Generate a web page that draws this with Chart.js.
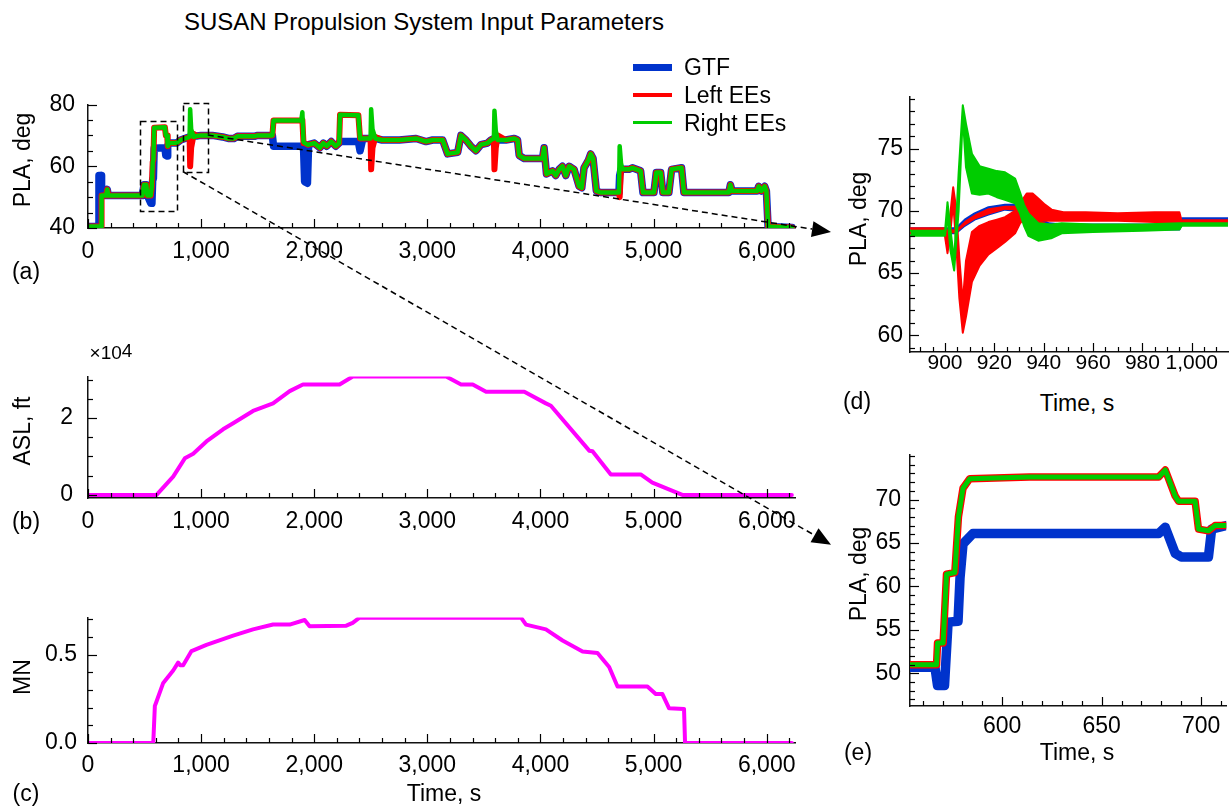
<!DOCTYPE html>
<html>
<head>
<meta charset="utf-8">
<title>SUSAN Propulsion System Input Parameters</title>
<script src="https://cdn.jsdelivr.net/npm/chart.js@4.4.0/dist/chart.umd.min.js"></script>
<style>
  body { margin: 0; background: #fff; }
  #page { position: relative; width: 1230px; height: 810px; overflow: hidden;
          font-family: "Liberation Sans", Arial, sans-serif; color: #000; }
  #page canvas { position: absolute; }
  .txt { position: absolute; transform: translate(-50%, -50%); white-space: nowrap; font-size: 23px; }
  .rot { transform: translate(-50%, -50%) rotate(-90deg); }
  .leg { position: absolute; left: 633px; width: 39px; }
  .legtxt { position: absolute; left: 684px; transform: translateY(-50%); font-size: 23px; white-space: nowrap; }
</style>
</head>
<body>
<div id="page">
  <canvas id="cA" width="810" height="190" style="left:0px;top:80px"></canvas>
  <canvas id="cB" width="810" height="180" style="left:0px;top:350px"></canvas>
  <canvas id="cC" width="810" height="215" style="left:0px;top:595px"></canvas>
  <canvas id="cD" width="400" height="304" style="left:830px;top:78px"></canvas>
  <canvas id="cE" width="400" height="307" style="left:830px;top:434px"></canvas>

  <div class="txt" style="left:424px;top:22px;font-size:24px">SUSAN Propulsion System Input Parameters</div>

  <div class="leg" style="top:64px;height:7px;background:#0033cc"></div>
  <div class="leg" style="top:93px;height:4px;background:#ff0000"></div>
  <div class="leg" style="top:121px;height:3px;background:#00cc00"></div>
  <div class="legtxt" style="top:67px">GTF</div>
  <div class="legtxt" style="top:95px">Left EEs</div>
  <div class="legtxt" style="top:123px">Right EEs</div>

  <div class="txt rot" style="left:22px;top:160px">PLA, deg</div>
  <div class="txt" style="left:26px;top:271px">(a)</div>
  <div class="txt rot" style="left:22px;top:431px">ASL, ft</div>
  <div class="txt" style="left:111px;top:353px;font-size:19px">×10<span style="position:relative;top:-2px">4</span></div>
  <div class="txt" style="left:26px;top:521px">(b)</div>
  <div class="txt rot" style="left:22px;top:677px">MN</div>
  <div class="txt" style="left:26px;top:793px">(c)</div>
  <div class="txt" style="left:444px;top:793px">Time, s</div>
  <div class="txt rot" style="left:858px;top:219px">PLA, deg</div>
  <div class="txt" style="left:857px;top:401px">(d)</div>
  <div class="txt" style="left:1077px;top:403px">Time, s</div>
  <div class="txt rot" style="left:858px;top:574px">PLA, deg</div>
  <div class="txt" style="left:858px;top:752px">(e)</div>
  <div class="txt" style="left:1077px;top:752px">Time, s</div>

  <canvas id="overlay" width="1230" height="810" style="left:0;top:0;pointer-events:none"></canvas>
</div>

<script>
// ---- (a) whole flight, power lever angle
var aTime = [0, 92, 97, 115, 120, 160, 170, 180, 480, 495,
  515, 525, 555, 565, 572, 578, 585, 680, 688, 700,
  703, 706, 715, 782, 820, 880, 898, 903, 912, 935,
  960, 1000, 1100, 1190, 1240, 1290, 1320, 1470, 1500, 1630,
  1640, 1885, 1895, 1905, 1915, 1940, 1950, 2000, 2050, 2080,
  2110, 2150, 2190, 2220, 2228, 2390, 2405, 2430, 2498, 2503,
  2515, 2540, 2600, 2753, 2900, 2988, 3047, 3135, 3179, 3268,
  3297, 3341, 3385, 3429, 3474, 3532, 3562, 3588, 3593, 3605,
  3621, 3694, 3768, 3797, 3812, 3856, 4018, 4032, 4053, 4106,
  4135, 4165, 4194, 4224, 4253, 4297, 4341, 4365, 4385, 4424,
  4444, 4465, 4494, 4532, 4694, 4700, 4712, 4724, 4782, 4812,
  4885, 4906, 5003, 5024, 5062, 5082, 5135, 5159, 5247, 5268,
  5665, 5679, 5694, 5915, 5929, 5953, 5982, 5997, 6012, 6224];

var aGTF = [40.5, 40.5, 57, 57, 50.5, 50.5, 52.5, 50.5, 50.5, 54,
  54, 50.5, 48, 48, 55.9, 56, 65.8, 66, 63.5, 63.3,
  63.3, 66.6, 67.5, 67.5, 68.5, 69.3, 69.5, 69.5, 70, 69.8,
  69.8, 70, 70, 69.5, 69, 69, 69.7, 69.7, 70, 70,
  66.5, 66.5, 66.5, 66.5, 55, 54.5, 67, 67.5, 66, 67.5,
  66.5, 68, 66.5, 67.5, 68, 68, 65, 69, 69, 69,
  69, 69, 68.5, 68.5, 69, 68, 68.5, 68.5, 64, 64.5,
  70, 68.5, 66.5, 65, 67, 67.5, 68.5, 69, 69, 69,
  68.5, 68.5, 69, 68.5, 63.5, 62.5, 62.5, 66, 57.5, 58.5,
  57, 59, 60, 57, 60, 59, 53.5, 53, 59.5, 62,
  64, 62.5, 52, 51.5, 51.5, 57, 59, 59, 59, 59.5,
  58.5, 51.5, 51.5, 58, 58, 51.5, 51.5, 59, 59.5, 51.5,
  51.5, 54, 52, 52, 53.5, 52, 53.5, 52, 40.5, 40.2];

var aLeft = [40.5, 40.5, 40.5, 40.5, 50.5, 50.5, 52.5, 50.5, 50.5, 54,
  54, 50.5, 50.5, 53.5, 61.4, 62, 72.5, 72.6, 70, 70,
  66.5, 66.6, 67.5, 67.5, 68.5, 69.3, 69.5, 60, 66, 70.5,
  69.8, 70, 70, 69.5, 69, 69, 69.7, 69.7, 70, 70,
  74.8, 74.8, 75, 67.5, 67.5, 67, 67, 67.5, 66, 67.5,
  66.5, 68, 66.5, 67.5, 76.7, 76.5, 69, 69, 69, 59,
  66, 69.5, 68.5, 68.5, 69, 68, 68.5, 68.5, 64, 64.5,
  70, 68.5, 66.5, 65, 67, 67.5, 68.5, 69, 59, 66,
  70, 68.5, 69, 68.5, 63.5, 62.5, 62.5, 66, 57.5, 58.5,
  57, 59, 60, 57, 60, 59, 53.5, 53, 59.5, 62,
  64, 62.5, 52, 51.5, 51.5, 50, 59.5, 59, 59, 59.5,
  58.5, 51.5, 51.5, 58, 58, 51.5, 51.5, 59, 59.5, 51.5,
  51.5, 54, 52, 52, 53.5, 52, 53.5, 52, 40.5, 40.2];

var aRight = [40.5, 40.5, 40.5, 40.5, 50.5, 50.5, 52.5, 50.5, 50.5, 54,
  54, 50.5, 50.5, 53.5, 61.4, 62, 72.5, 72.6, 70, 70,
  66.5, 66.6, 67.5, 67.5, 68.5, 69.3, 69.5, 78.5, 72, 69.5,
  69.8, 70, 70, 69.5, 69, 69, 69.7, 69.7, 70, 70,
  74.8, 74.8, 77.5, 68, 67.5, 67, 67, 67.5, 66, 67.5,
  66.5, 68, 66.5, 67.5, 76.7, 76.5, 69, 69, 69, 78.5,
  72, 69, 68.5, 68.5, 69, 68, 68.5, 68.5, 64, 64.5,
  70, 68.5, 66.5, 65, 67, 67.5, 68.5, 69, 78, 71.5,
  68.5, 68.5, 69, 68.5, 63.5, 62.5, 62.5, 66, 57.5, 58.5,
  57, 59, 60, 57, 60, 59, 53.5, 53, 59.5, 62,
  64, 62.5, 52, 51.5, 51.5, 66.5, 61, 59, 59, 59.5,
  58.5, 51.5, 51.5, 58, 58, 51.5, 51.5, 59, 59.5, 51.5,
  51.5, 54, 52, 52, 53.5, 52, 53.5, 52, 40.5, 40.2];

// ---- (b) altitude, ft
var bTime = [0, 606, 753, 856, 930, 1047, 1194, 1283, 1459, 1636, 1783, 1900, 2224, 2341,
  3166, 3298, 3401, 3519, 3857, 4048, 4092, 4431, 4460, 4622, 4886, 4989, 5254, 6222];
var bAlt = [0, 0, 4760, 9520, 10700, 13900, 17070, 18650, 21830, 23810, 27000, 28740, 28740, 30800,
  30800, 28740, 28740, 26830, 26830, 23810, 23190, 11510, 11350, 5320, 5320, 3180, 0, 0];

// ---- (c) mach number
var cTime = [0, 577, 591, 600, 665, 753, 797, 815, 841, 915, 1047, 1283, 1459, 1636, 1783, 1915,
  1959, 2283, 2340, 2400, 3828, 3872, 4048, 4195, 4372, 4504, 4607, 4681, 4945, 5019, 5078,
  5137, 5269, 5278, 6222];
var cMach = [0, 0, 0.21, 0.225, 0.34, 0.41, 0.455, 0.44, 0.44, 0.52, 0.555, 0.607, 0.643, 0.67, 0.67, 0.696,
  0.66, 0.664, 0.68, 0.709, 0.709, 0.67, 0.643, 0.58, 0.518, 0.509, 0.43, 0.32, 0.32, 0.277, 0.277,
  0.196, 0.193, 0, 0];

// ---- (d) zoom around 900 s (bands = spread of the engine traces)
var dRedT = [886, 899.8, 901, 902, 903.3, 904.5, 905.8, 907.2, 908.5, 910.9,
  914, 917.6, 921, 924.3, 928.4, 930.4, 933.1, 935.5, 937.8, 940.5,
  943.2, 948, 957, 970, 985, 995, 996, 1014.7];
var dRedHi = [68.6, 68.6, 67.8, 69.5, 71.9, 70.2, 66.2, 62.6, 66.0, 68.3,
  68.8, 69.1, 69.3, 69.5, 70.0, 70.6, 71.4, 71.4, 71.0, 70.5,
  70.1, 69.9, 69.9, 69.8, 69.9, 69.9, 69.1, 69.1];
var dRedLo = [68.2, 68.2, 66.6, 68.0, 70.6, 67.5, 63.0, 60.2, 61.5, 64.3,
  65.6, 66.5, 67.0, 67.5, 68.2, 69.0, 69.6, 69.6, 69.3, 69.2,
  69.2, 69.2, 69.2, 69.2, 69.1, 69.1, 68.9, 68.9];

var dGrnT = [886, 900, 901, 902.2, 903.7, 905.5, 907.2, 908.5, 910.9, 914,
  917.6, 921, 924.3, 928.4, 930.4, 932, 933.8, 937.8, 943, 947.3,
  960, 980, 995, 996, 1014.7];
var dGrnHi = [68.4, 68.4, 70.7, 68.5, 66.0, 73.0, 78.5, 77.0, 74.6, 73.6,
  73.4, 73.2, 73.1, 72.6, 71.5, 70.5, 69.8, 69.0, 68.9, 69.0,
  68.9, 68.9, 69.0, 69.0, 69.0];
var dGrnLo = [68.0, 68.0, 69.6, 66.8, 65.2, 70.0, 77.6, 73.5, 71.4, 71.3,
  71.4, 71.1, 70.9, 70.6, 69.8, 68.8, 68.0, 67.6, 67.8, 68.2,
  68.3, 68.4, 68.5, 68.8, 68.8];

var dGtfT = [886, 903.5, 905, 908, 912, 917.6, 924.3, 930.4, 933, 935.1, 939.2, 942, 948, 995, 996, 1014.7];
var dGtfHi = [68.6, 68.6, 68.7, 69.3, 69.8, 70.3, 70.5, 70.5, 70.2, 69.9, 69.3, 69.0, 68.9, 68.9, 69.4, 69.4];
var dGtfLo = [68.2, 68.2, 68.3, 68.8, 69.3, 69.7, 70.1, 70.0, 69.7, 69.3, 68.8, 68.6, 68.5, 68.5, 69.0, 69.0];

// ---- (e) zoom around 600 s
var eTime = [553.7, 567, 567.5, 570.3, 572, 576.2, 578, 580.3, 583.7, 613.7,
  678.7, 682, 687, 688.7, 697, 698.7, 703.7, 707, 712.7];
var eEE = [51.0, 51.0, 53.5, 53.5, 61.4, 61.6, 68.0, 71.3, 72.4, 72.6,
  72.6, 73.4, 70.4, 69.8, 69.8, 66.6, 66.4, 67.0, 67.0];
var eGtfT = [553.7, 566.2, 567.5, 571, 572.8, 577.8, 578.8, 580.3, 585.3, 678.7, 682, 687, 690, 703.7, 705.3, 712.7];
var eGTF = [50.7, 50.7, 48.6, 48.6, 55.9, 56.0, 61.0, 64.9, 66.1, 66.1, 66.8, 63.8, 63.4, 63.4, 66.6, 67.0];

var BLUE = '#0033cc', RED = '#ff0000', GREEN = '#00cc00', MAGENTA = '#ff00ff';

Chart.defaults.font.family = '"Liberation Sans", Arial, sans-serif';
Chart.defaults.color = '#000';

function pts(xs, ys) {
  return xs.map(function (x, i) { return { x: x, y: ys[i] }; });
}

function line(label, data, color, width, order, extra) {
  var d = { label: label, data: data, borderColor: color, backgroundColor: color,
    borderWidth: width, order: order, fill: false, pointRadius: 0,
    borderJoinStyle: 'round', borderCapStyle: 'round' };
  for (var k in extra) d[k] = extra[k];
  return d;
}

// draws the inward tick marks (minor and major) on both axes
var inTicks = {
  id: 'inTicks',
  afterDraw: function (chart) {
    var ctx = chart.ctx, area = chart.chartArea;
    ctx.save();
    ctx.strokeStyle = '#000';
    ctx.lineWidth = 1.2;
    ['x', 'y'].forEach(function (id) {
      var sc = chart.scales[id];
      var step = sc.options.ticks.stepSize;
      sc.ticks.forEach(function (tk) {
        var r = tk.value / step;
        if (Math.abs(r - Math.round(r)) > 1e-6) return;
        var len = tk.label !== '' ? 9 : 5;
        var p = Math.round(sc.getPixelForValue(tk.value)) + 0.5;
        ctx.beginPath();
        if (id === 'x') { ctx.moveTo(p, area.bottom); ctx.lineTo(p, area.bottom - len); }
        else { ctx.moveTo(area.left, p); ctx.lineTo(area.left + len, p); }
        ctx.stroke();
      });
    });
    ctx.restore();
  }
};

function makeChart(id, datasets, o) {
  return new Chart(document.getElementById(id), {
    type: 'line',
    data: { datasets: datasets },
    options: {
      animation: false, responsive: false, maintainAspectRatio: false,
      layout: { padding: { top: o.padTop, right: o.padRight, left: 0, bottom: 0 } },
      plugins: { legend: { display: false }, tooltip: { enabled: false } },
      scales: {
        x: {
          type: 'linear', min: o.xMin, max: o.xMax,
          ticks: { stepSize: o.xStep, includeBounds: false, autoSkip: false, maxRotation: 0, minRotation: 0,
            padding: o.xPad, font: { size: o.xFont || 23, lineHeight: 1 }, callback: o.xLabel },
          grid: { drawOnChartArea: false, drawTicks: false },
          border: { color: '#111', width: 1.5 },
          afterFit: function (s) { s.height = o.xH; }
        },
        y: {
          min: o.yMin, max: o.yMax,
          ticks: { stepSize: o.yStep, includeBounds: false, autoSkip: false, padding: o.yPad,
            font: { size: 23, lineHeight: 1 }, callback: o.yLabel },
          grid: { drawOnChartArea: false, drawTicks: false },
          border: { color: '#111', width: 1.5 },
          afterFit: function (s) { s.width = o.yW; }
        }
      }
    },
    plugins: [inTicks]
  });
}

function isMult(v, m) { var r = v / m; return Math.abs(r - Math.round(r)) < 1e-6; }
function thousands(v) { return isMult(v, 1000) ? v.toLocaleString('en-US') : ''; }

var chartA = makeChart('cA', [
  line('Right EEs', pts(aTime, aRight), GREEN, 4.5, 0),
  line('Left EEs', pts(aTime, aLeft), RED, 6, 1),
  line('GTF', pts(aTime, aGTF), BLUE, 7.5, 2)
], { padTop: 15, padRight: 15, xH: 42, yW: 88, xMin: 0, xMax: 6250, xStep: 200, xPad: 12,
     xLabel: thousands, yMin: 40, yMax: 80, yStep: 5, yPad: 13,
     yLabel: function (v) { return isMult(v, 20) ? String(v) : ''; } });

// altitude axis is in units of 10^4 ft
var chartB = makeChart('cB', [
  line('ASL', pts(bTime, bAlt.map(function (v) { return v / 1e4; })), MAGENTA, 4, 0)
], { padTop: 16, padRight: 15, xH: 32, yW: 88, xMin: 0, xMax: 6250, xStep: 200, xPad: 12,
     xLabel: thousands, yMin: -0.08, yMax: 3.08, yStep: 0.5, yPad: 15,
     yLabel: function (v) { return Math.abs(v) < 1e-6 ? '0' : (Math.abs(v - 2) < 1e-6 ? '2' : ''); } });

var chartC = makeChart('cC', [
  line('MN', pts(cTime, cMach), MAGENTA, 4, 0)
], { padTop: 15, padRight: 15, xH: 67, yW: 88, xMin: 0, xMax: 6250, xStep: 200, xPad: 11,
     xLabel: thousands, yMin: 0, yMax: 0.71, yStep: 0.1, yPad: 11,
     yLabel: function (v) { return isMult(v, 0.5) ? v.toFixed(1) : ''; } });

var chartD = makeChart('cD', [
  line('Right EEs', pts(dGrnT, dGrnHi), GREEN, 2, 0, { fill: '+1' }),
  line('Right EEs low', pts(dGrnT, dGrnLo), GREEN, 2, 0),
  line('Left EEs', pts(dRedT, dRedHi), RED, 2, 1, { fill: '+1' }),
  line('Left EEs low', pts(dRedT, dRedLo), RED, 2, 1),
  line('GTF', pts(dGtfT, dGtfHi), BLUE, 2, 2, { fill: '+1', backgroundColor: RED }),
  line('GTF low', pts(dGtfT, dGtfLo), BLUE, 2, 2)
], { padTop: 15, padRight: 2, xH: 30, yW: 80, xMin: 885.8, xMax: 1014.7, xStep: 5, xPad: 1, xFont: 21,
     xLabel: function (v) { return isMult(v, 20) ? v.toLocaleString('en-US') : ''; },
     yMin: 58.65, yMax: 79.2, yStep: 1, yPad: 7,
     yLabel: function (v) { return isMult(v, 5) ? String(v) : ''; } });

var chartE = makeChart('cE', [
  line('Right EEs', pts(eTime, eEE), GREEN, 5, 0),
  line('Left EEs', pts(eTime, eEE), RED, 7.5, 1),
  line('GTF', pts(eGtfT, eGTF), BLUE, 9.5, 2)
], { padTop: 15, padRight: 2, xH: 35, yW: 80, xMin: 553.65, xMax: 712.65, xStep: 10, xPad: 9,
     xLabel: function (v) { return isMult(v, 50) ? String(v) : ''; },
     yMin: 46.25, yMax: 75.18, yStep: 1, yPad: 9,
     yLabel: function (v) { return (isMult(v, 5) && v <= 70) ? String(v) : ''; } });

// dashed zoom boxes on (a) and the dashed arrows to (d) and (e)
function drawOverlay() {
  var ctx = document.getElementById('overlay').getContext('2d');
  var offA = { left: 0, top: 80 }, offD = { left: 830, top: 78 }, offE = { left: 830, top: 434 };
  function pa(t, v) {
    return [offA.left + chartA.scales.x.getPixelForValue(t), offA.top + chartA.scales.y.getPixelForValue(v)];
  }
  ctx.strokeStyle = '#000';
  ctx.fillStyle = '#000';
  ctx.lineWidth = 1.5;
  ctx.setLineDash([6, 4]);

  var boxes = [[459, 785, 45.4, 74.6], [838, 1059, 58.3, 80.6]];
  boxes.forEach(function (b) {
    var p0 = pa(b[0], b[3]), p1 = pa(b[1], b[2]);
    ctx.strokeRect(Math.round(p0[0]) + 0.5, Math.round(p0[1]) + 0.5, Math.round(p1[0] - p0[0]), Math.round(p1[1] - p0[1]));
  });

  function arrow(a, b) {
    var ang = Math.atan2(b[1] - a[1], b[0] - a[0]), L = 19, W = 8;
    var bx = b[0] - L * Math.cos(ang), by = b[1] - L * Math.sin(ang);
    ctx.setLineDash([6, 4]);
    ctx.beginPath(); ctx.moveTo(a[0], a[1]); ctx.lineTo(bx, by); ctx.stroke();
    ctx.setLineDash([]);
    ctx.beginPath();
    ctx.moveTo(b[0], b[1]);
    ctx.lineTo(bx + W * Math.sin(ang), by - W * Math.cos(ang));
    ctx.lineTo(bx - W * Math.sin(ang), by + W * Math.cos(ang));
    ctx.closePath(); ctx.fill();
  }
  arrow(pa(1059, 70.1), [offD.left + 1, offD.top + chartD.scales.y.getPixelForValue(68.3)]);
  arrow(pa(838, 58.3), [offE.left + 1, offE.top + chartE.scales.y.getPixelForValue(64.8)]);
}
drawOverlay();
</script>
</body>
</html>
